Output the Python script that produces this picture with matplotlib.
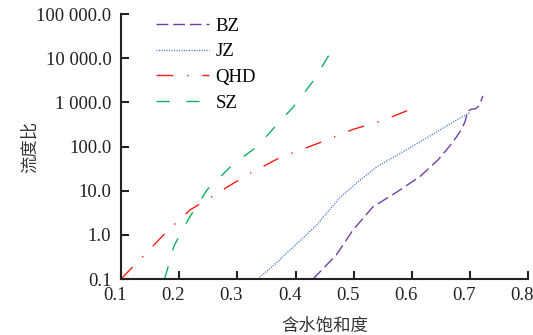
import matplotlib
matplotlib.use("Agg")
import matplotlib.pyplot as plt
from matplotlib.ticker import FixedLocator, FuncFormatter
from matplotlib.transforms import ScaledTranslation

plt.rcParams['font.family'] = ['Liberation Serif', 'Noto Sans CJK SC']
plt.rcParams['lines.scale_dashes'] = False

# data (x: water saturation, y: mobility ratio)
bz_x = [0.430, 0.470, 0.499, 0.533, 0.575, 0.614, 0.645, 0.670, 0.684, 0.691, 0.696, 0.702, 0.710, 0.716, 0.722]
bz_y = [0.1, 0.35, 1.3, 4.3, 9.5, 21, 50, 123, 230, 355, 620, 700, 720, 850, 1400]

jz_x = [0.335, 0.365, 0.396, 0.435, 0.476, 0.505, 0.540, 0.591, 0.630, 0.670, 0.700]
jz_y = [0.1, 0.22, 0.53, 1.6, 6.9, 15, 35, 85, 170, 355, 590]

qhd_x = [0.100, 0.140, 0.179, 0.219, 0.250, 0.282, 0.327, 0.373, 0.447, 0.499, 0.550, 0.597]
qhd_y = [0.1, 0.35, 1.2, 3.7, 6.5, 12, 27, 56, 130, 245, 390, 690]

sz_x = [0.175, 0.191, 0.217, 0.248, 0.292, 0.334, 0.373, 0.396, 0.430, 0.465]
sz_y = [0.1, 0.56, 2.4, 10.5, 39, 100, 370, 780, 3000, 17000]

yticks = [0.1, 1, 10, 100, 1000, 10000, 100000]
ytick_labels = ['0.1', '1.0', '10.0', '100.0', '1 000.0', '10 000.0', '100 000.0']
xticks = [0.1, 0.2, 0.3, 0.4, 0.5, 0.6, 0.7, 0.8]

fig = plt.figure(figsize=(5.33, 3.35), dpi=100)
ax = fig.add_axes([0.227, 0.167, 0.764, 0.791])

ax.plot(bz_x, bz_y, color='#7040a8', lw=1.0, dashes=(8.5, 3.5), label='BZ')
ax.plot(jz_x, jz_y, color='#4a78c8', lw=1.0, dashes=(0.8, 1.0), label='JZ')
ax.plot(qhd_x, qhd_y, color='#ff1a1a', lw=1.0, dashes=(12, 10, 1, 10), label='QHD')
ax.plot(sz_x, sz_y, color='#10b060', lw=1.0, dashes=(9.5, 12), label='SZ')

ax.set_yscale('log')
ax.set_ylim(0.1, 100000)
ax.set_xlim(0.1, 0.8)
ax.yaxis.set_major_locator(FixedLocator(yticks))
ax.yaxis.set_major_formatter(FuncFormatter(lambda v, p: ytick_labels[yticks.index(min(yticks, key=lambda t: abs(t - v)))]))
ax.yaxis.set_minor_locator(FixedLocator([]))
ax.set_xticks(xticks)
ax.set_xticklabels(['%.1f' % v for v in xticks])

for s in ['top', 'right']:
    ax.spines[s].set_visible(False)
for s in ['left', 'bottom']:
    ax.spines[s].set_linewidth(1.5)
    ax.spines[s].set_color('#222222')
ax.tick_params(direction='in', length=6, width=1.5, labelsize=13.5, colors='#222222')
ax.tick_params(axis='y', pad=7)
ax.tick_params(axis='x', pad=6)

# x tick labels sit a little left of their ticks in the original
shift = ScaledTranslation(-6 / 100, 0, fig.dpi_scale_trans)
for lab in ax.get_xticklabels():
    lab.set_transform(lab.get_transform() + shift)

ax.set_xlabel('含水饱和度', fontsize=12.5, color='#333333', labelpad=10)
ax.set_ylabel('流度比', fontsize=12.5, color='#333333', labelpad=-2)

ax.legend(loc='upper left', bbox_to_anchor=(0.045, 1.05), frameon=False, fontsize=13.5,
          handlelength=2.8, handletextpad=0.35, labelspacing=0.45)

fig.savefig('out.png', dpi=100)
